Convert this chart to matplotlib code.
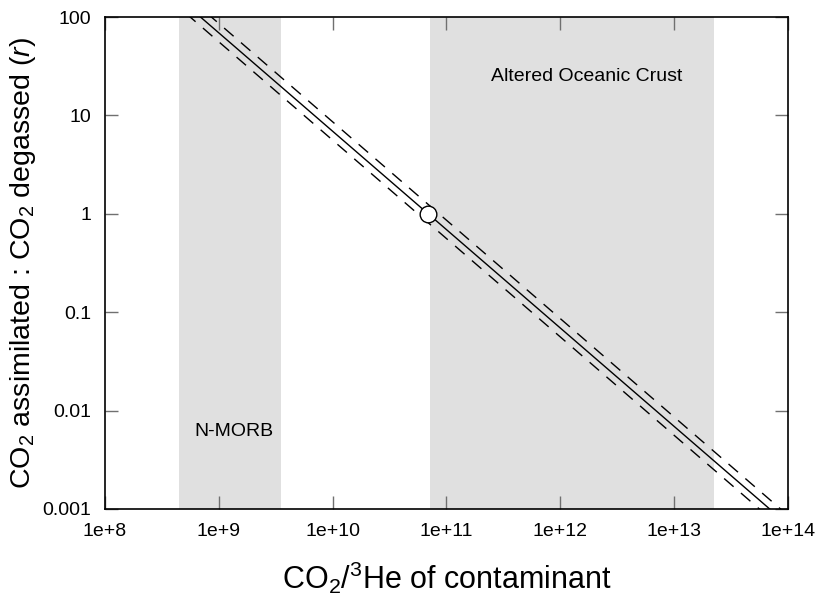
import numpy as np
import matplotlib
matplotlib.use("Agg")
import matplotlib.pyplot as plt
from matplotlib.ticker import FixedLocator, FixedFormatter, NullLocator

plt.rcParams['font.family'] = ['Liberation Sans', 'DejaVu Sans']
plt.rcParams['mathtext.fontset'] = 'custom'
plt.rcParams['mathtext.rm'] = 'Liberation Sans'
plt.rcParams['mathtext.it'] = 'Liberation Sans:italic'

# contaminant CO2/3He ranges
band_names = ['N-MORB', 'Altered Oceanic Crust']
band_lo = [4.5e8, 7.2e10]
band_hi = [3.5e9, 2.25e13]

# r = k / (CO2/3He), best estimate and bounds
k_mid = 6.9e10
k_lo = 5.6e10
k_hi = 8.6e10

x_ticks = [1e8, 1e9, 1e10, 1e11, 1e12, 1e13, 1e14]
x_labels = ['1e+8', '1e+9', '1e+10', '1e+11', '1e+12', '1e+13', '1e+14']
y_ticks = [0.001, 0.01, 0.1, 1, 10, 100]
y_labels = ['0.001', '0.01', '0.1', '1', '10', '100']

fig = plt.figure(figsize=(8.15, 5.99), dpi=100)
ax = fig.add_axes([0.1288, 0.1503, 0.8381, 0.8213])
ax.set_xscale('log')
ax.set_yscale('log')

for lo, hi in zip(band_lo, band_hi):
    ax.axvspan(lo, hi, color='#e0e0e0', lw=0, zorder=0)

x = np.logspace(7, 15, 200)
ax.plot(x, k_mid / x, color='black', lw=1.0, zorder=2)
ax.plot(x, k_lo / x, color='black', lw=1.0, ls=(0, (9, 7)), zorder=2)
ax.plot(x, k_hi / x, color='black', lw=1.0, ls=(0, (9, 7)), zorder=2)
ax.plot([k_mid], [1], 'o', ms=12, mfc='white', mec='black', mew=1.0, zorder=3)

ax.text(1.36e9, 0.0061, band_names[0], fontsize=14, ha='center', va='center')
ax.text(1.69e12, 25, band_names[1], fontsize=14, ha='center', va='center')

ax.set_xlim(1e8, 1e14)
ax.set_ylim(0.001, 100)
ax.xaxis.set_major_locator(FixedLocator(x_ticks))
ax.xaxis.set_major_formatter(FixedFormatter(x_labels))
ax.yaxis.set_major_locator(FixedLocator(y_ticks))
ax.yaxis.set_major_formatter(FixedFormatter(y_labels))
ax.xaxis.set_minor_locator(NullLocator())
ax.yaxis.set_minor_locator(NullLocator())
ax.tick_params(which='major', direction='in', length=9.5, width=1.0, color='#707070',
               top=True, right=True, labelsize=14, pad=10)
ax.tick_params(axis='y', pad=10)
for s in ax.spines.values():
    s.set_linewidth(1.2)

ax.set_xlabel(r'CO$_2$/$^3$He of contaminant', fontsize=22, labelpad=14)
ax.set_ylabel(r'CO$_2$ assimilated : CO$_2$ degassed ($\mathit{r}$)', fontsize=20.5, labelpad=3)

fig.savefig('out.png', dpi=100)
